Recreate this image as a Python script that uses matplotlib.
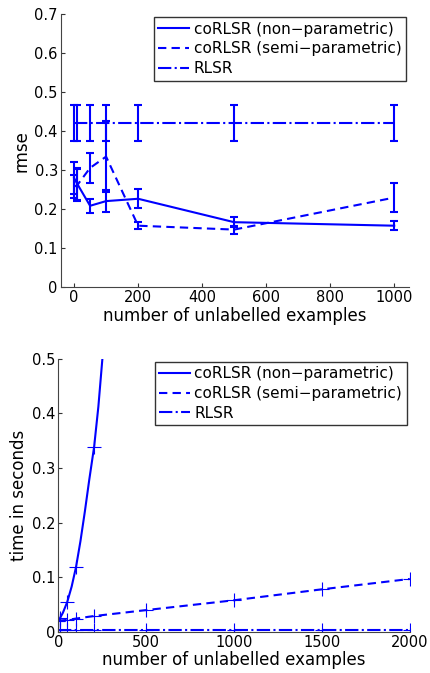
import matplotlib
matplotlib.use("Agg")
import matplotlib.pyplot as plt
from matplotlib.lines import Line2D
from matplotlib.ticker import FuncFormatter

plt.rcParams['font.family'] = ['DejaVu Sans']

# ---- top chart data (rmse) ----
x_rmse = [0, 10, 50, 100, 200, 500, 1000]
nonpar_rmse = [0.280, 0.265, 0.209, 0.221, 0.227, 0.167, 0.158]
nonpar_err = [0.040, 0.040, 0.018, 0.028, 0.024, 0.013, 0.012]
semi_rmse = [0.258, 0.262, 0.306, 0.335, 0.158, 0.148, 0.230]
semi_err = [0.030, 0.040, 0.039, 0.090, 0.009, 0.010, 0.038]
rlsr_rmse = [0.421, 0.421, 0.421, 0.421, 0.421, 0.421, 0.421]
rlsr_err = [0.046, 0.046, 0.046, 0.046, 0.046, 0.046, 0.046]

# ---- bottom chart data (time) ----
x_nonpar_time = [0, 10, 50, 100, 200]
nonpar_time = [0.020, 0.025, 0.055, 0.119, 0.339]
curve_x = [0, 25, 50, 75, 100, 125, 150, 175, 203, 227, 250]
curve_y = [0.020, 0.035, 0.055, 0.083, 0.119, 0.166, 0.220, 0.278, 0.339, 0.412, 0.500]
x_time = [0, 10, 50, 100, 200, 500, 1000, 1500, 2000]
semi_time = [0.020, 0.021, 0.022, 0.0245, 0.029, 0.040, 0.058, 0.078, 0.097]
rlsr_time = [0.004, 0.004, 0.004, 0.004, 0.004, 0.004, 0.004, 0.004, 0.004]

labels = ['coRLSR (non\u2212parametric)', 'coRLSR (semi\u2212parametric)', 'RLSR']
styles = ['-', (0, (4, 2.5)), '-.']
blue = (0, 0, 1)
TICK_FS = 10.5
LAB_FS = 12
LEG_FS = 11
LW = 1.5

fig = plt.figure(figsize=(4.30, 6.73), dpi=100)
ax1 = fig.add_axes([0.141, 0.573, 0.810, 0.406])
ax2 = fig.add_axes([0.136, 0.061, 0.817, 0.406])

def style_axes(ax):
    for s in ['top', 'right']:
        ax.spines[s].set_visible(False)
    for s in ['left', 'bottom']:
        ax.spines[s].set_color('#444444')
        ax.spines[s].set_linewidth(0.8)
    ax.tick_params(direction='in', length=3, width=0.8, color='#333333',
                   labelsize=TICK_FS, pad=2)
    ax.yaxis.set_major_formatter(FuncFormatter(lambda v, p: ('%g' % round(v, 3))))

for ys, es, ls in zip([nonpar_rmse, semi_rmse, rlsr_rmse],
                      [nonpar_err, semi_err, rlsr_err], styles):
    ax1.errorbar(x_rmse, ys, yerr=es, color=blue, linestyle=ls, linewidth=LW,
                 elinewidth=LW, capsize=3, capthick=LW)
ax1.set_xlim(-42, 1046)
ax1.set_ylim(0, 0.7)
ax1.set_xticks([0, 200, 400, 600, 800, 1000])
ax1.set_yticks([0, 0.1, 0.2, 0.3, 0.4, 0.5, 0.6, 0.7])
ax1.set_xlabel('number of unlabelled examples', fontsize=LAB_FS, labelpad=1)
ax1.set_ylabel('rmse', fontsize=LAB_FS, labelpad=3)
style_axes(ax1)

handles = [Line2D([], [], color=blue, linestyle=ls, linewidth=LW) for ls in styles]
for ax in (ax1, ax2):
    leg = ax.legend(handles, labels, loc='upper right', fontsize=LEG_FS,
                    frameon=True, fancybox=False, borderpad=0.3,
                    labelspacing=0.3, handlelength=2.0, handletextpad=0.3,
                    borderaxespad=0.2)
    leg.get_frame().set_edgecolor('black')
    leg.get_frame().set_linewidth(1.0)

ax2.plot(curve_x, curve_y, color=blue, linestyle='-', linewidth=LW)
ax2.plot(x_nonpar_time, nonpar_time, color=blue, linestyle='none', marker='+',
         markersize=10, markeredgewidth=0.8)
ax2.plot(x_time, semi_time, color=blue, linestyle=styles[1], linewidth=LW,
         marker='+', markersize=10, markeredgewidth=0.8)
ax2.plot(x_time, rlsr_time, color=blue, linestyle='-.', linewidth=LW,
         marker='+', markersize=10, markeredgewidth=0.8)
ax2.set_xlim(0, 2000)
ax2.set_ylim(0, 0.5)
ax2.set_xticks([0, 500, 1000, 1500, 2000])
ax2.set_yticks([0, 0.1, 0.2, 0.3, 0.4, 0.5])
ax2.set_xlabel('number of unlabelled examples', fontsize=LAB_FS, labelpad=1)
ax2.set_ylabel('time in seconds', fontsize=LAB_FS, labelpad=3)
style_axes(ax2)

fig.savefig('out.png', dpi=100)
